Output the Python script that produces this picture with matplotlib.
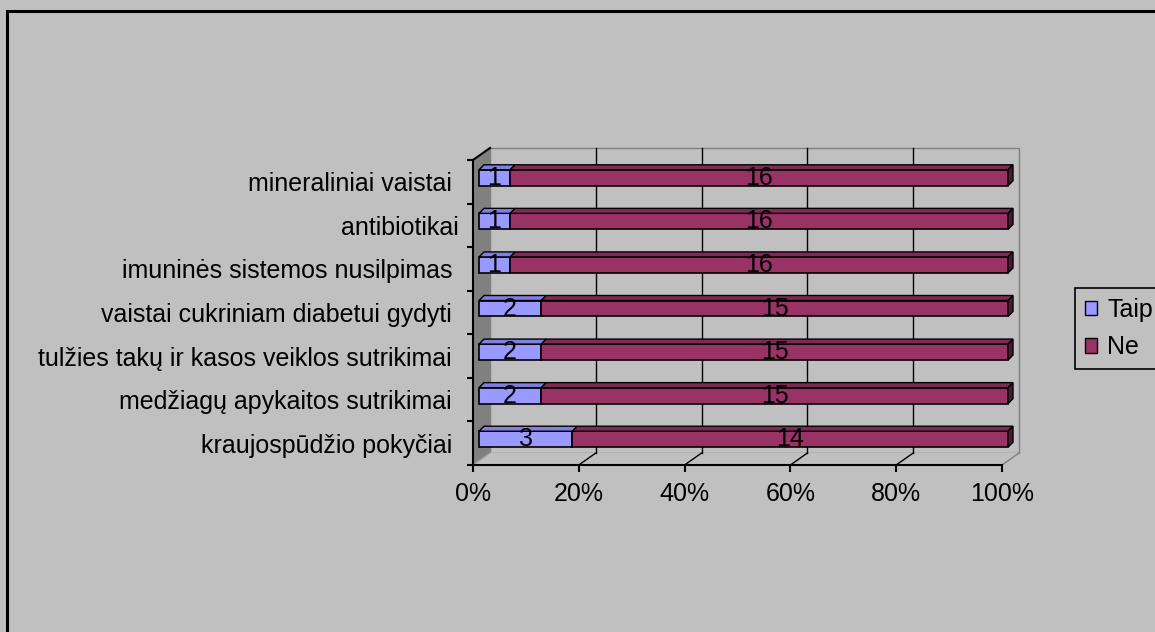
import matplotlib
matplotlib.use("Agg")
import matplotlib.pyplot as plt
import matplotlib.transforms as mtransforms
from matplotlib.patches import Polygon, Rectangle, Patch
import numpy as np

plt.rcParams['font.family'] = ['Liberation Sans', 'DejaVu Sans']

# ---- data (bottom to top) ----
categories = [
    "kraujospūdžio pokyčiai ",
    "medžiagų apykaitos sutrikimai ",
    "tulžies takų ir kasos veiklos sutrikimai ",
    "vaistai cukriniam diabetui gydyti ",
    "imuninės sistemos nusilpimas ",
    "antibiotikai",
    "mineraliniai vaistai ",
]
taip = [3, 2, 2, 2, 1, 1, 1]
ne = [14, 15, 15, 15, 16, 16, 16]
series_names = ["Taip", "Ne"]
xticks = [0, 20, 40, 60, 80, 100]
xtick_labels = ["0%", "20%", "40%", "60%", "80%", "100%"]

BG = '#C0C0C0'
C_TAIP = '#9999FF'
C_NE = '#993366'
C_TAIP_TOP = '#8080E0'
C_NE_TOP = '#7F2A55'
C_NE_SIDE = '#4C1A33'

W, H = 1155, 632
fig = plt.figure(figsize=(W / 100, H / 100), dpi=100, facecolor=BG)

ax = fig.add_axes([473 / W, 1 - 465 / H, 529 / W, 305 / H])
ax.set_xlim(0, 100)
ax.set_ylim(-0.5, len(categories) - 0.5)
ax.patch.set_visible(False)
for s in ['top', 'right']:
    ax.spines[s].set_visible(False)
for s in ['left', 'bottom']:
    ax.spines[s].set_linewidth(1.5)
    ax.spines[s].set_zorder(6)

FS_CAT = 18
FS = 18
ax.set_xticks(xticks)
ax.set_xticklabels(xtick_labels, fontsize=FS)
ax.tick_params(axis='x', direction='out', length=5, width=1.5, pad=7)
ax.set_yticks(np.arange(-0.5, len(categories), 1.0))
ax.set_yticklabels([])
ax.tick_params(axis='y', which='major', direction='out', length=4, width=1.5)
ax.set_yticks(np.arange(len(categories)), minor=True)
ax.set_yticklabels(categories, minor=True, fontsize=FS_CAT)
ax.tick_params(axis='y', which='minor', length=0, pad=10)

ident = mtransforms.IdentityTransform()
D = np.array([17.0, 12.0])      # full depth (display px, y up)
BO = np.array([6.0, 4.0])       # bar front offset
BD = np.array([5.0, 5.0])       # bar depth

def T(x, y):
    return ax.transData.transform((x, y))

def poly(pts, fc, ec='none', lw=1.0, z=1):
    p = Polygon(np.array(pts), closed=True, facecolor=fc, edgecolor=ec,
                linewidth=lw, transform=ident, zorder=z, clip_on=False)
    ax.add_artist(p)

def line(p1, p2, c='black', lw=1.0, z=2):
    ax.add_artist(plt.Line2D([p1[0], p2[0]], [p1[1], p2[1]], color=c, lw=lw,
                             transform=ident, zorder=z, clip_on=False))

y0, y1 = -0.5, len(categories) - 0.5
fl_b, fr_b, fr_t, fl_t = T(0, y0), T(100, y0), T(100, y1), T(0, y1)
# back wall
poly([fl_b + D, fr_b + D, fr_t + D, fl_t + D], BG, '#808080', 1.0, z=0.5)
# floor
poly([fl_b, fr_b, fr_b + D, fl_b + D], BG, 'none', z=0.6)
line(fr_b, fr_b + D, '#808080', 1.0, z=0.7)
# side wall
poly([fl_b, fl_t, fl_t + D, fl_b + D], '#808080', 'none', z=0.8)
line(fl_b, fl_b + D, '#A0A0A0', 1.0, z=0.9)
line(fl_t, fl_t + D, 'black', 1.5, z=6)
# gridlines
for xv in xticks[1:-1]:
    b = T(xv, y0)
    t = T(xv, y1)
    line(b, b + D, 'black', 1.0, z=1)
    line(b + D, t + D, 'black', 1.0, z=1)

# bars
offset = mtransforms.ScaledTranslation(BO[0] / 100, BO[1] / 100, fig.dpi_scale_trans)
tr = ax.transData + offset
h = 0.367
for i in range(len(categories)):
    tot = taip[i] + ne[i]
    pt = taip[i] / tot * 100
    pn = ne[i] / tot * 100
    ax.barh(i, pt, left=0, height=h, color=C_TAIP, edgecolor='black',
            linewidth=1.2, transform=tr, zorder=3, clip_on=False)
    ax.barh(i, pn, left=pt, height=h, color=C_NE, edgecolor='black',
            linewidth=1.2, transform=tr, zorder=3, clip_on=False)
    # top faces
    for (l, r, c) in [(0, pt, C_TAIP_TOP), (pt, 100, C_NE_TOP)]:
        a = T(l, i + h / 2) + BO
        b = T(r, i + h / 2) + BO
        poly([a, b, b + BD, a + BD], c, 'black', 1.0, z=3.5)
    # right face
    a = T(100, i - h / 2) + BO
    b = T(100, i + h / 2) + BO
    poly([a, b, b + BD, a + BD], C_NE_SIDE, 'black', 1.0, z=3.5)
    # labels
    ax.text(pt / 2, i, str(taip[i]), ha='center', va='center', fontsize=FS,
            transform=tr, zorder=5, clip_on=False)
    ax.text(pt + pn / 2, i, str(ne[i]), ha='center', va='center', fontsize=FS,
            transform=tr, zorder=5, clip_on=False)

# legend
handles = [Patch(facecolor=C_TAIP, edgecolor='black'),
           Patch(facecolor=C_NE, edgecolor='black')]
leg = fig.legend(handles, series_names, loc='upper left',
                 bbox_to_anchor=(1075 / W, 1 - 288 / H), frameon=True,
                 fancybox=False, edgecolor='black', facecolor=BG, framealpha=1,
                 fontsize=FS, handlelength=0.5, handleheight=0.5,
                 handletextpad=0.4, borderpad=0.38, labelspacing=0.55,
                 borderaxespad=0)
leg.get_frame().set_linewidth(1.2)

# outer border
fig.add_artist(Rectangle((7 / W, -0.2), 1.5, 1 - 11 / H + 0.2, fill=False,
                         edgecolor='black', linewidth=2.2,
                         transform=fig.transFigure))

fig.savefig('out.png', dpi=100, facecolor=BG)
